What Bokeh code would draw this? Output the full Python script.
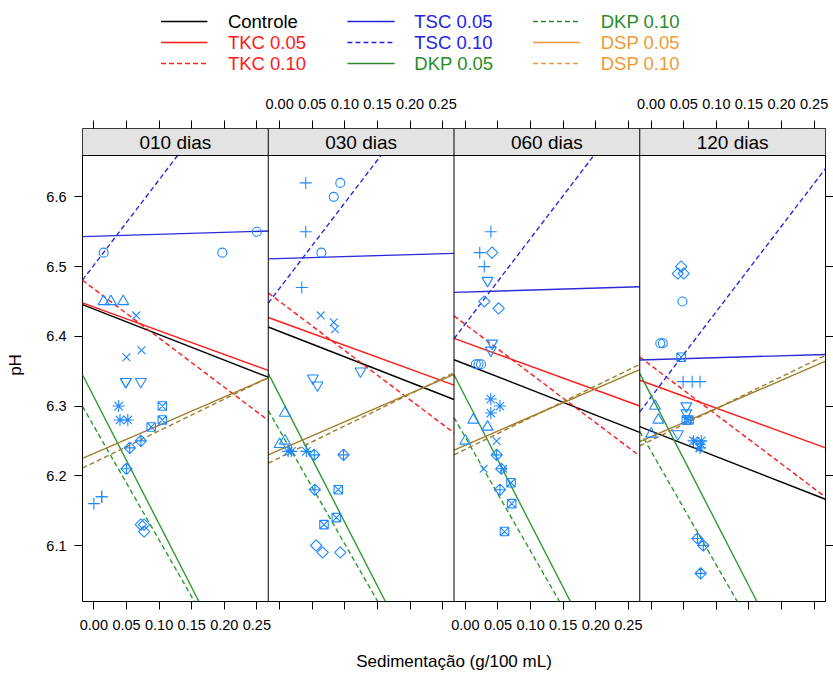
import numpy as np
from bokeh.plotting import figure
from bokeh.layouts import column
from bokeh.models import Range1d, FixedTicker, LinearAxis, Span, CustomJSTickFormatter
from bokeh.core.properties import value
from bokeh.embed import file_html
from bokeh.resources import INLINE

# ---------------- data ----------------
panel_labels = ["010 dias", "030 dias", "060 dias", "120 dias"]
treatments = ["Controle", "TKC 0.05", "TKC 0.10", "TSC 0.05", "TSC 0.10",
              "DKP 0.05", "DKP 0.10", "DSP 0.05", "DSP 0.10"]
# fitted slope of pH on sedimentation (one per treatment)
slopes = [-0.365, -0.34, -0.705, 0.028, 1.225, -1.82, -1.63, 0.405, 0.455]
# fitted pH at sedimentation 0 (one list per panel, treatment order)
intercept_010 = [6.439, 6.442, 6.468, 6.5435, 6.502, 6.313, 6.271, 6.232, 6.219]
intercept_030 = [6.407, 6.421, 6.450, 6.5115, 6.469, 6.315, 6.265, 6.237, 6.226]
intercept_060 = [6.360, 6.391, 6.417, 6.4635, 6.418, 6.313, 6.255, 6.244, 6.238]
intercept_120 = [6.264, 6.331, 6.358, 6.3665, 6.313, 6.315, 6.235, 6.256, 6.251]

# observed points: group id (symbol) , sedimentation, pH
grp = [1, 1, 1, 2, 2, 2, 3, 3, 3, 4, 4, 4, 5, 5, 5, 6, 6, 6, 7, 7, 7, 8, 8, 8, 9, 9, 9]
sed_010 = [0.015, 0.197, 0.250, 0.015, 0.026, 0.045, 0.000, 0.012, 0.012,
           0.065, 0.050, 0.073, 0.072, 0.077, 0.077, 0.049, 0.049, 0.072,
           0.105, 0.105, 0.088, 0.038, 0.040, 0.052, 0.072, 0.055, 0.050]
ph_010 = [6.52, 6.52, 6.55, 6.45, 6.45, 6.45, 6.16, 6.17, 6.17,
          6.43, 6.37, 6.38, 6.13, 6.13, 6.12, 6.335, 6.335, 6.335,
          6.30, 6.28, 6.27, 6.30, 6.28, 6.28, 6.25, 6.24, 6.21]
sed_030 = [0.093, 0.083, 0.064, 0.008, 0.008, 0.000, 0.040, 0.040, 0.034,
           0.063, 0.083, 0.085, 0.056, 0.066, 0.093, 0.051, 0.058, 0.124,
           0.090, 0.087, 0.068, 0.013, 0.018, 0.041, 0.053, 0.098, 0.054]
ph_030 = [6.62, 6.60, 6.52, 6.29, 6.25, 6.245, 6.62, 6.55, 6.47,
          6.43, 6.42, 6.41, 6.10, 6.09, 6.09, 6.34, 6.33, 6.35,
          6.18, 6.14, 6.13, 6.235, 6.235, 6.235, 6.23, 6.23, 6.18]
sed_060 = [0.016, 0.020, 0.024, 0.012, 0.034, 0.000, 0.039, 0.022, 0.029,
           0.048, 0.028, 0.058, 0.041, 0.029, 0.051, 0.034, 0.041, 0.039,
           0.070, 0.071, 0.060, 0.039, 0.053, 0.039, 0.048, 0.055, 0.053]
ph_060 = [6.36, 6.36, 6.36, 6.28, 6.27, 6.25, 6.55, 6.52, 6.50,
          6.25, 6.21, 6.21, 6.52, 6.45, 6.44, 6.48, 6.39, 6.38,
          6.19, 6.16, 6.12, 6.31, 6.30, 6.29, 6.23, 6.21, 6.18]
sed_120 = [0.048, 0.014, 0.018, 0.006, 0.011, 0.000, 0.049, 0.063, 0.075,
           0.068, 0.077, 0.074, 0.046, 0.041, 0.050, 0.054, 0.054, 0.041,
           0.046, 0.054, 0.058, 0.065, 0.077, 0.075, 0.071, 0.080, 0.076]
ph_120 = [6.45, 6.39, 6.39, 6.30, 6.28, 6.26, 6.335, 6.335, 6.335,
          6.25, 6.245, 6.24, 6.50, 6.49, 6.49, 6.30, 6.29, 6.26,
          6.37, 6.28, 6.28, 6.25, 6.25, 6.24, 6.11, 6.10, 6.06]

x_tick_values = [0.00, 0.05, 0.10, 0.15, 0.20, 0.25]
y_tick_values = [6.1, 6.2, 6.3, 6.4, 6.5, 6.6]

# ---------------- layout helpers ----------------
intercepts = [intercept_010, intercept_030, intercept_060, intercept_120]
seds = [sed_010, sed_030, sed_060, sed_120]
phs = [ph_010, ph_030, ph_060, ph_120]

FONT = "Liberation Sans"
X0, X1 = -0.0175, 0.2675          # per-panel x limits (lattice padding)
Y0, Y1 = 6.0197, 6.6593           # y limits of the data region
W = X1 - X0
STRIP = 27 / (446 / (Y1 - Y0))    # strip height in data units (27 px)
YTOP = Y1 + STRIP

line_col = {"Controle": "#000000", "TKC": "#FF1A1A", "TSC": "#2B2BD9",
            "DKP": "#2E9A2E", "DSP": "#A07D2C"}
legend_col = {"Controle": "#000000", "TKC": "#FF1A1A", "TSC": "#2323E0",
              "DKP": "#2A8C2A", "DSP": "#F09B35"}
def fam(t):
    return t.split(" ")[0]
def dash(t):
    return "5 3" if t.endswith("0.10") else "solid"

PT = "#1E88FF"
marker_of = {1: ("circle", 9, 0), 2: ("triangle", 11, 0), 3: ("cross", 12, 0),
             4: ("x", 11, 0), 5: ("square", 8, np.pi / 4), 6: ("inverted_triangle", 11, 0),
             7: ("square_x", 8.5, 0), 8: ("asterisk", 12, 0), 9: ("square_x", 8, np.pi / 4)}

p = figure(width=833, height=598, x_range=Range1d(0, 4 * W), y_range=Range1d(Y0, YTOP),
           output_backend="svg", toolbar_location=None,
           x_axis_location=None, y_axis_location=None,
           min_border_left=82, min_border_right=5, min_border_top=50, min_border_bottom=75)
p.grid.visible = False
p.outline_line_color = "black"
p.outline_line_width = 1
p.background_fill_color = "white"
p.border_fill_color = "white"

# strips
p.quad(left=[k * W for k in range(4)], right=[(k + 1) * W for k in range(4)],
       bottom=Y1, top=YTOP, fill_color="#E3E3E3", line_color=None)
p.text(x=[k * W + W / 2 for k in range(4)], y=[Y1 + STRIP / 2] * 4, text=panel_labels,
       text_font=value(FONT), text_font_size="19px", text_align="center",
       text_baseline="middle", text_color="black")
p.add_layout(Span(location=Y1, dimension="width", line_color="black", line_width=1))
for k in range(1, 4):
    p.add_layout(Span(location=k * W, dimension="height", line_color="black", line_width=1))

# fitted lines, clipped to each panel
for k in range(4):
    for i, t in enumerate(treatments):
        a, b = intercepts[k][i], slopes[i]
        lo, hi = X0, X1
        if b != 0:
            xa, xb = (Y0 - a) / b, (Y1 - a) / b
            lo, hi = max(lo, min(xa, xb)), min(hi, max(xa, xb))
        if hi <= lo:
            continue
        p.line([k * W + lo - X0, k * W + hi - X0], [a + b * lo, a + b * hi],
               line_color=line_col[fam(t)], line_dash=dash(t), line_width=1.4)

# points
for k in range(4):
    for g, (mk, sz, ang) in marker_of.items():
        xs = [k * W + s - X0 for s, gg in zip(seds[k], grp) if gg == g]
        ys = [v for v, gg in zip(phs[k], grp) if gg == g]
        p.scatter(xs, ys, marker=mk, size=sz, angle=ang, fill_color=None,
                  line_color=PT, line_width=1.1)

# axes
all_ticks = [k * W + t - X0 for k in range(4) for t in x_tick_values]

def xfmt(parity):
    return CustomJSTickFormatter(args=dict(W=W, X0=X0, parity=parity), code="""
        const k = Math.floor((tick + 1e-9) / W);
        if (k % 2 != parity) return "";
        const t = tick - k * W + X0;
        return Math.abs(t) < 1e-9 ? "0.00" : t.toFixed(2);
    """)

def style(ax):
    ax.axis_line_color = None
    ax.major_tick_in = 0
    ax.major_tick_out = 8
    ax.major_tick_line_color = "black"
    ax.minor_tick_line_color = None
    ax.major_label_text_font = FONT
    ax.major_label_text_font_size = "14.5px"
    ax.major_label_text_color = "black"
    ax.axis_label_text_font = FONT
    ax.axis_label_text_font_size = "17px"
    ax.axis_label_text_font_style = "normal"
    ax.axis_label_text_color = "black"

bottom = LinearAxis(ticker=FixedTicker(ticks=all_ticks), formatter=xfmt(0),
                    axis_label="Sedimentação (g/100 mL)")
style(bottom)
bottom.major_label_standoff = 10
bottom.axis_label_standoff = 19
p.add_layout(bottom, "below")

top = LinearAxis(ticker=FixedTicker(ticks=all_ticks), formatter=xfmt(1))
style(top)
top.major_label_standoff = 12
p.add_layout(top, "above")

left = LinearAxis(ticker=FixedTicker(ticks=y_tick_values), axis_label="pH")
style(left)
left.major_label_standoff = 8
left.axis_label_standoff = 18
p.add_layout(left, "left")

right = LinearAxis(ticker=FixedTicker(ticks=y_tick_values),
                   formatter=CustomJSTickFormatter(code='return "";'))
style(right)
right.major_label_standoff = 0
p.add_layout(right, "right")

# legend figure
lg = figure(width=833, height=78, x_range=Range1d(0, 833), y_range=Range1d(78, 0),
            output_backend="svg", toolbar_location=None,
            x_axis_location=None, y_axis_location=None, min_border=0)
lg.grid.visible = False
lg.outline_line_color = None
col_line = [(88, 140), (297, 350), (505, 558)]
col_text = [163, 372, 581]
row_y = [21, 42, 63]
tx, ty, tc = [], [], []
for i, t in enumerate(treatments):
    c, r = i // 3, i % 3
    lg.line(list(col_line[c]), [row_y[r], row_y[r]], line_color=legend_col[fam(t)],
            line_dash=dash(t), line_width=1.4)
    tx.append(col_text[c]); ty.append(row_y[r]); tc.append(legend_col[fam(t)])
lg.text(x=tx, y=ty, text=treatments, text_color=tc, text_font=value(FONT),
        text_font_size="18.5px", text_baseline="middle", text_align="left")

layout = column(lg, p, spacing=0)
open("out.html", "w").write(file_html(layout, INLINE))
